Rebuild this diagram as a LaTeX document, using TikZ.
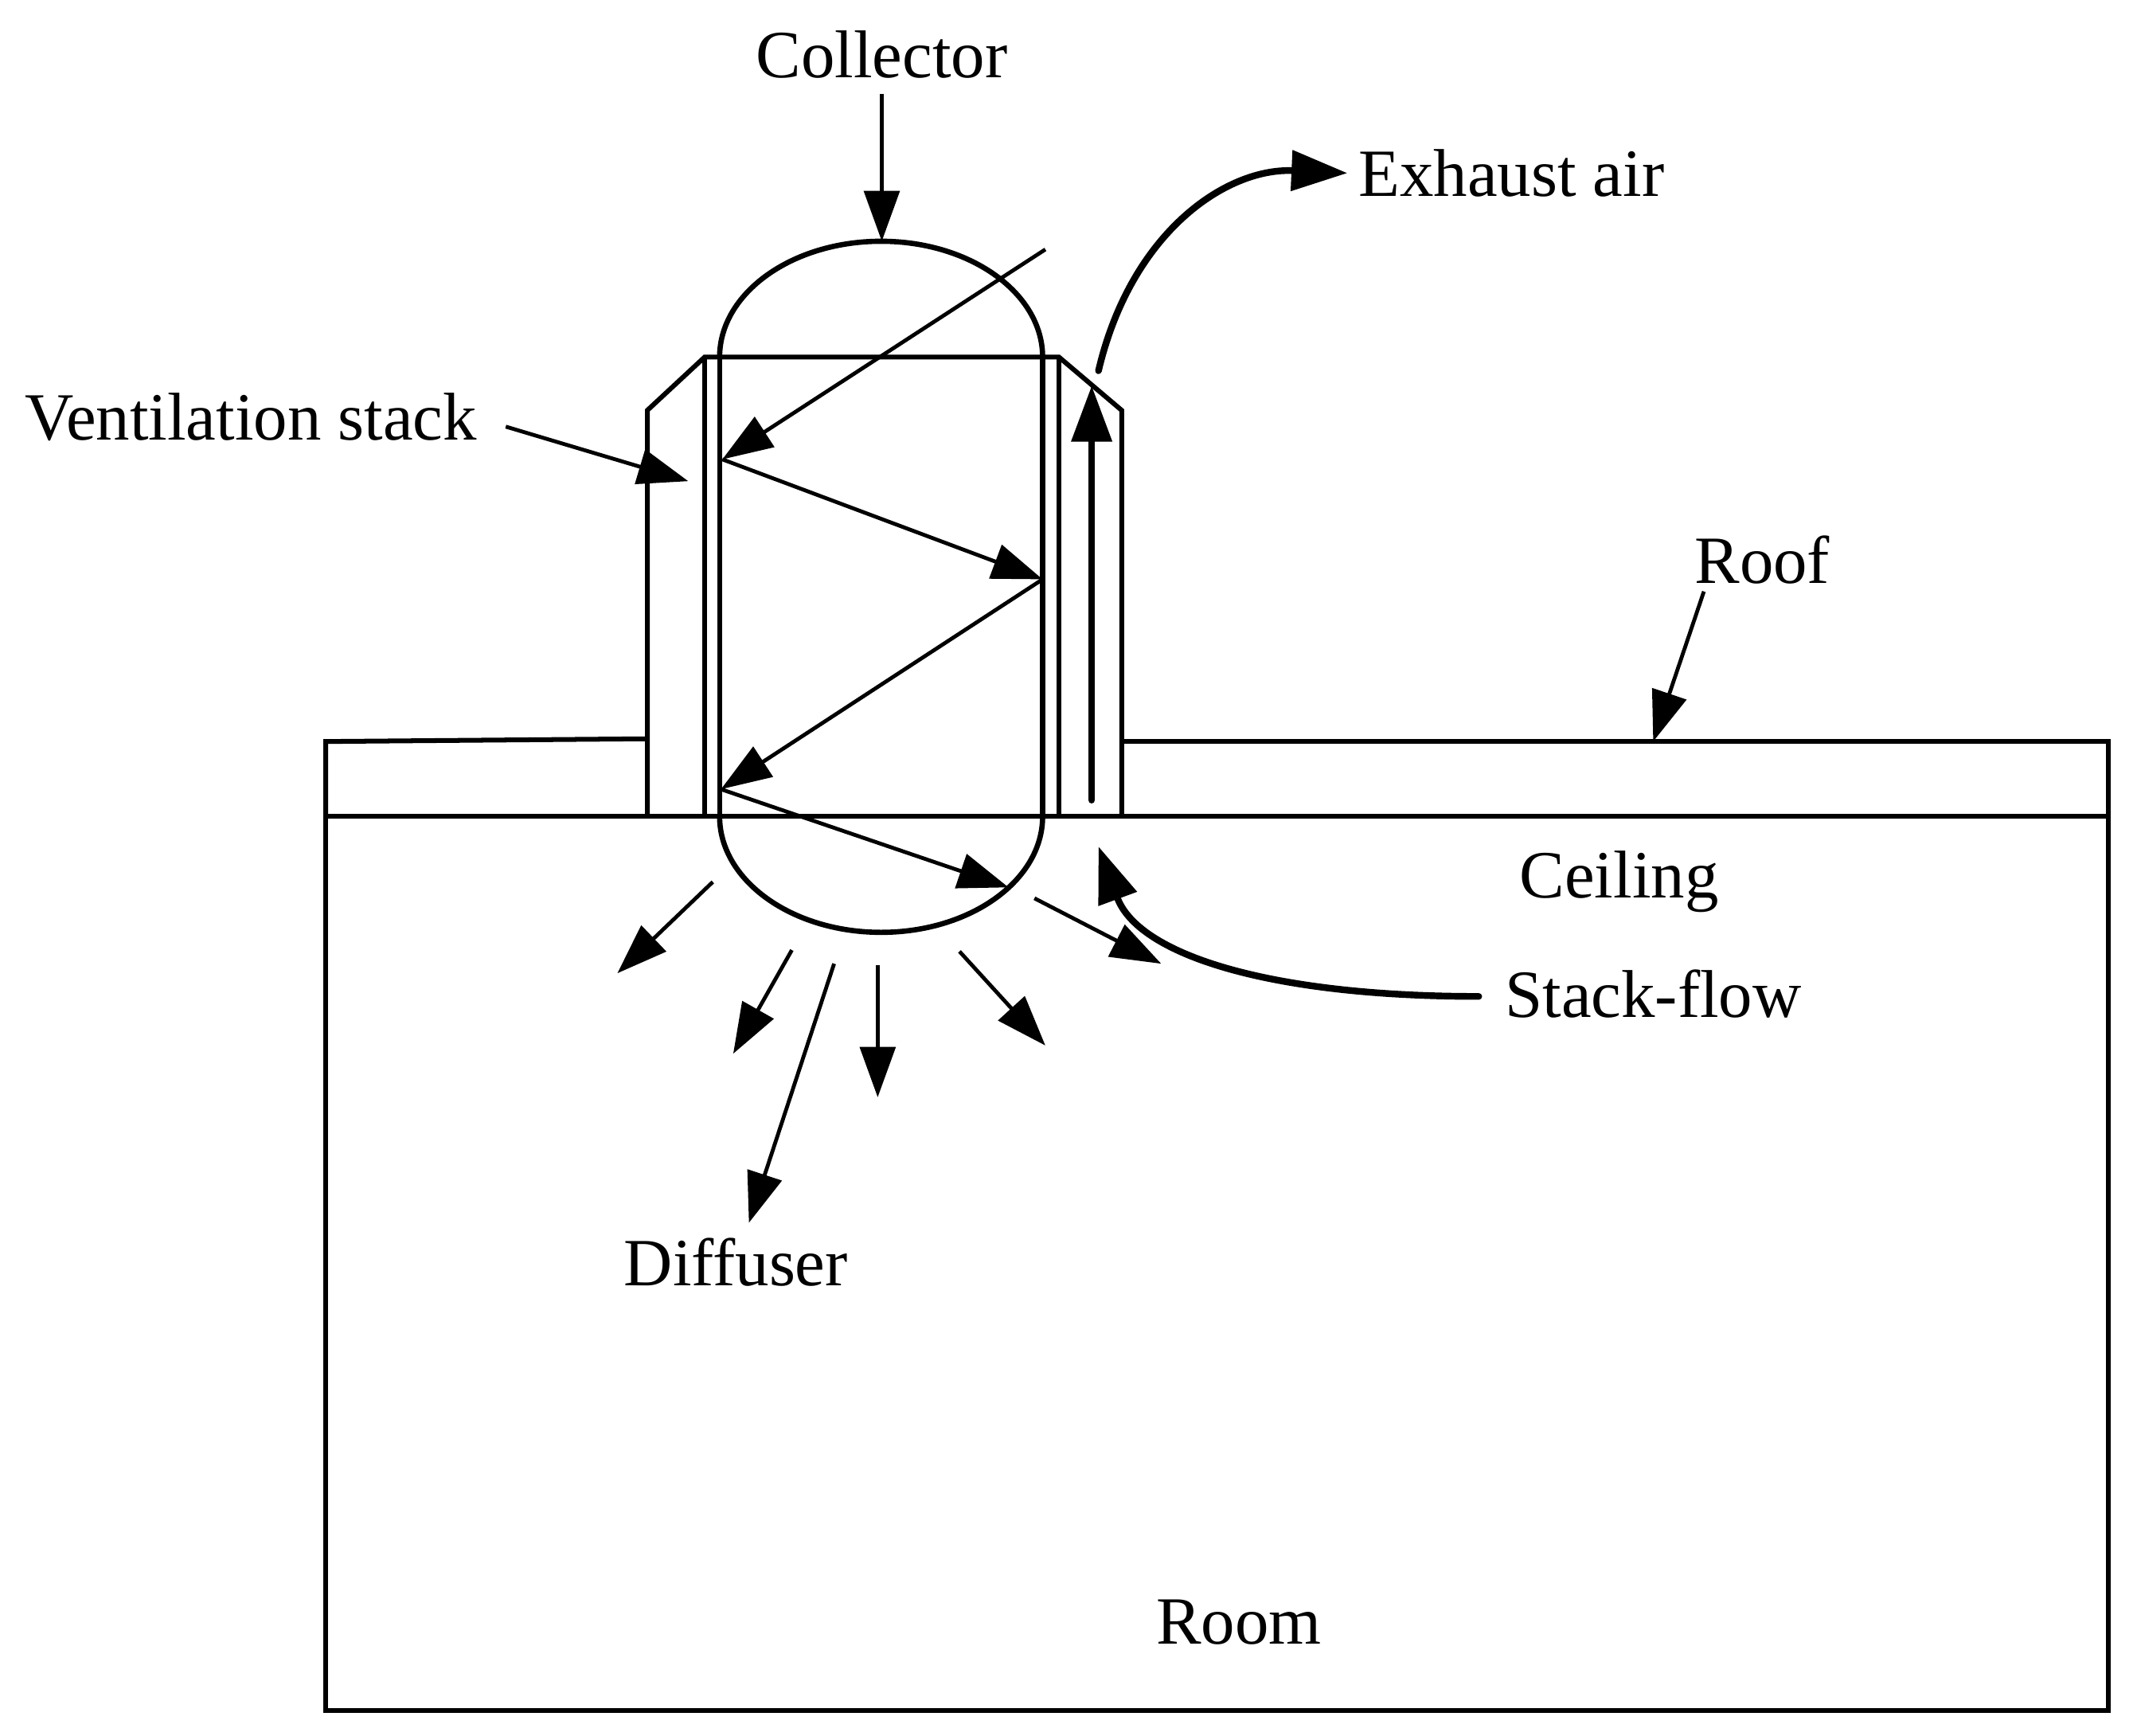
\documentclass[tikz,border=0pt]{standalone}
\usepackage{fontspec}
\setmainfont{Liberation Serif}
\usetikzlibrary{arrows.meta}

\begin{document}
\begin{tikzpicture}[
  wall/.style={line width=1pt, line join=miter},
  dome/.style={line width=1.1pt},
  arr/.style={-{Triangle[length=3.7mm, width=2.6mm]}, line width=0.8pt},
  thickarr/.style={-{Triangle[length=4.1mm, width=2.9mm]}, line width=1.4pt},
  tag/.style={font=\fontsize{14.1}{16}\selectfont, inner sep=3pt},
]
  \useasboundingbox (0, 0) rectangle (15.68, 12.73);

  % room, roof and stack
  \draw[wall] (2.39, 6.74) rectangle (15.47, 0.18);
  \draw[wall] (2.39, 6.74) -- (2.39, 7.29) -- (4.74, 7.31);
  \draw[wall] (8.23, 7.29) -- (15.47, 7.29) -- (15.47, 6.74);
  \draw[wall] (4.75, 6.74) -- (4.75, 9.72) -- (5.17, 10.11) -- (7.77, 10.11) -- (8.23, 9.72) -- (8.23, 6.74);
  \draw[wall] (5.17, 10.11) -- (5.17, 6.74);
  \draw[wall] (5.28, 10.11) -- (5.28, 6.74);
  \draw[wall] (7.65, 10.11) -- (7.65, 6.74);
  \draw[wall] (7.77, 10.11) -- (7.77, 6.74);
  \draw[dome] (5.28, 10.11) arc[start angle=180, end angle=0, x radius=1.185, y radius=0.85];
  \draw[dome] (5.28, 6.74) arc[start angle=180, end angle=360, x radius=1.185, y radius=0.85];

  % labels
  \node[tag] (collector) at (6.47, 12.33) {Collector};
  \node[tag] (exhaust) at (11.09, 11.46) {Exhaust air};
  \node[tag] (vent) at (1.84, 9.67) {Ventilation stack};
  \node[tag] (roof) at (12.93, 8.62) {Roof};
  \node[tag] (ceiling) at (11.88, 6.26) {Ceiling};
  \node[tag] (stackflow) at (12.13, 5.44) {Stack-flow};
  \node[tag] (diffuser) at (5.40, 3.47) {Diffuser};
  \node[tag] (room) at (9.09, 0.83) {Room};

  % end points of the arrows
  \coordinate (domeTop) at (6.47, 10.96);
  \coordinate (ventEnd) at (5.05, 9.20);
  \coordinate (roofEnd) at (12.13, 7.29);
  \coordinate (rayIn) at (7.67, 10.90);
  \coordinate (rayA) at (5.30, 9.36);
  \coordinate (rayB) at (7.65, 8.48);
  \coordinate (rayC) at (5.29, 6.94);
  \coordinate (rayD) at (7.40, 6.22);
  \coordinate (stackBottom) at (8.01, 6.86);
  \coordinate (stackTop) at (8.01, 9.90);
  \coordinate (exhaustStart) at (8.06, 10.01);
  \coordinate (flowStart) at (10.85, 5.42);
  \coordinate (flowEnd) at (8.06, 6.52);

  \draw[arr] (collector) -- (domeTop);
  \draw[arr] ([xshift=0.10cm, yshift=-0.07cm]vent.east) -- (ventEnd);
  \draw[arr] ([xshift=0.18cm, yshift=0.06cm]roof.south west) -- (roofEnd);

  % rays inside the collector
  \draw[arr] (rayIn) -- (rayA);
  \draw[arr] (rayA) -- (rayB);
  \draw[arr] (rayB) -- (rayC);
  \draw[arr] (rayC) -- (rayD);

  % air leaving the diffuser
  \coordinate (outA) at (5.23, 6.26);
  \coordinate (outAe) at (4.53, 5.59);
  \coordinate (outB) at (5.81, 5.76);
  \coordinate (outBe) at (5.38, 5.00);
  \coordinate (outC) at (6.12, 5.66);
  \coordinate (outD) at (6.44, 5.65);
  \coordinate (outDe) at (6.44, 4.68);
  \coordinate (outE) at (7.04, 5.75);
  \coordinate (outEe) at (7.67, 5.06);
  \coordinate (outF) at (7.59, 6.14);
  \coordinate (outFe) at (8.52, 5.66);
  \draw[arr] (outA) -- (outAe);
  \draw[arr] (outB) -- (outBe);
  \draw[arr] (outC) -- (diffuser);
  \draw[arr] (outD) -- (outDe);
  \draw[arr] (outE) -- (outEe);
  \draw[arr] (outF) -- (outFe);

  % stack flow
  \draw[thickarr, line cap=round] (stackBottom) -- (stackTop);
  \draw[thickarr, line cap=round] (exhaustStart) .. controls (8.30, 11.03) and (9.00, 11.50) .. ([xshift=0.03cm]exhaust.west);
  \draw[thickarr, line cap=round] (flowStart) .. controls (9.30, 5.42) and (8.35, 5.73) .. (flowEnd);
\end{tikzpicture}
\end{document}
